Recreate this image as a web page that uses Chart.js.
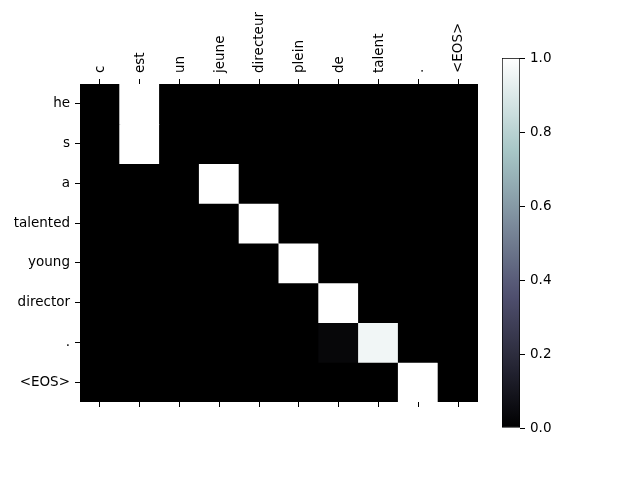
<!DOCTYPE html>
<html>
<head>
<meta charset="utf-8">
<script src="https://cdn.jsdelivr.net/npm/chart.js@4"></script>
<style>
  body { margin: 0; background: #fff; }
  #wrap { position: relative; width: 640px; height: 480px; }
  #heat { position: absolute; left: 0; top: 0; }
  #cbar { position: absolute; left: 490px; top: 0; }
</style>
</head>
<body>
<div id="wrap">
  <canvas id="heat" width="490" height="480"></canvas>
  <canvas id="cbar" width="150" height="480"></canvas>
</div>
<script>
const srcTokens = ['c', 'est', 'un', 'jeune', 'directeur', 'plein', 'de', 'talent', '.', '<EOS>'];
const tgtTokens = ['he', 's', 'a', 'talented', 'young', 'director', '.', '<EOS>'];
const weights = [
  [0, 1, 0, 0, 0, 0, 0, 0, 0, 0],
  [0, 1, 0, 0, 0, 0, 0, 0, 0, 0],
  [0, 0, 0, 1, 0, 0, 0, 0, 0, 0],
  [0, 0, 0, 0, 1, 0, 0, 0, 0, 0],
  [0, 0, 0, 0, 0, 1, 0, 0, 0, 0],
  [0, 0, 0, 0, 0, 0, 1, 0, 0, 0],
  [0, 0, 0, 0, 0, 0, 0.03, 0.96, 0, 0],
  [0, 0, 0, 0, 0, 0, 0, 0, 1, 0]
];
const cbarTicks = [0, 0.2, 0.4, 0.6, 0.8, 1.0];

Chart.defaults.font.family = 'DejaVu Sans';
Chart.defaults.font.size = 13.5;
Chart.defaults.color = '#000';
Chart.defaults.animation = false;

// matplotlib 'bone' colormap, piecewise linear
function bone(v) {
  const lerp = (pts) => {
    for (let i = 1; i < pts.length; i++) {
      if (v <= pts[i][0]) {
        const [x0, y0] = pts[i - 1], [x1, y1] = pts[i];
        return y0 + (v - x0) / (x1 - x0) * (y1 - y0);
      }
    }
    return pts[pts.length - 1][1];
  };
  const r = lerp([[0, 0], [0.746032, 0.652778], [1, 1]]);
  const g = lerp([[0, 0], [0.365079, 0.319444], [0.746032, 0.777778], [1, 1]]);
  const b = lerp([[0, 0], [0.365079, 0.444444], [1, 1]]);
  return `rgb(${Math.round(r * 255)},${Math.round(g * 255)},${Math.round(b * 255)})`;
}

const areaFill = {
  id: 'areaFill',
  beforeDatasetsDraw(chart) {
    const a = chart.chartArea, ctx = chart.ctx;
    ctx.save();
    ctx.fillStyle = bone(0);
    ctx.fillRect(a.left, a.top, a.right - a.left, a.bottom - a.top);
    ctx.restore();
  }
};

new Chart(document.getElementById('heat'), {
  type: 'bar',
  data: {
    labels: srcTokens,
    datasets: tgtTokens.map((t, i) => ({
      label: t,
      data: srcTokens.map(() => [i - 0.5, i + 0.5]),
      backgroundColor: weights[i].map(bone),
      borderWidth: 0,
      inflateAmount: 0.5,
      barPercentage: 1,
      categoryPercentage: 1,
      grouped: false
    }))
  },
  options: {
    responsive: false,
    layout: { padding: { left: 0, right: 12, top: 0, bottom: 0 } },
    plugins: { legend: { display: false }, tooltip: { enabled: false } },
    scales: {
      x: {
        type: 'category',
        position: 'top',
        grid: { offset: false, drawOnChartArea: false, tickLength: 5, tickColor: '#000' },
        border: { display: false },
        ticks: { minRotation: 90, maxRotation: 90, padding: 6, labelOffset: 17, autoSkip: false },
        afterFit: s => { s.height = 84; }
      },
      x2: {
        type: 'category',
        position: 'bottom',
        labels: srcTokens,
        offset: true,
        grid: { offset: false, drawOnChartArea: false, tickLength: 5, tickColor: '#000' },
        border: { display: false },
        ticks: { display: false },
        afterFit: s => { s.height = 78; }
      },
      y: {
        type: 'linear',
        reverse: true,
        min: -0.5,
        max: 7.5,
        afterBuildTicks: s => { s.ticks = tgtTokens.map((_, i) => ({ value: i })); },
        ticks: { callback: v => tgtTokens[v], padding: 5 },
        grid: { drawOnChartArea: false, tickLength: 5, tickColor: '#000' },
        border: { display: false },
        afterFit: s => { s.width = 80; }
      }
    }
  },
  plugins: [areaFill]
});

new Chart(document.getElementById('cbar'), {
  type: 'bar',
  data: {
    labels: ['v'],
    datasets: [{
      data: [[0, 1]],
      backgroundColor: (c) => {
        const area = c.chart.chartArea;
        if (!area) return '#888';
        const g = c.chart.ctx.createLinearGradient(0, area.bottom, 0, area.top);
        for (let k = 0; k <= 20; k++) g.addColorStop(k / 20, bone(k / 20));
        return g;
      },
      borderColor: '#000',
      borderWidth: 1,
      borderSkipped: false,
      barPercentage: 1,
      categoryPercentage: 1
    }]
  },
  options: {
    responsive: false,
    layout: { padding: { left: 12, top: 58, bottom: 52, right: 0 } },
    plugins: { legend: { display: false }, tooltip: { enabled: false } },
    scales: {
      x: { display: false },
      y: {
        position: 'right',
        min: 0,
        max: 1,
        afterBuildTicks: s => { s.ticks = cbarTicks.map(v => ({ value: v })); },
        ticks: { callback: v => v.toFixed(1), padding: 5 },
        grid: { drawOnChartArea: false, tickLength: 5, tickColor: '#000' },
        border: { display: false },
        afterFit: s => { s.width = 120; }
      }
    }
  }
});
</script>
</body>
</html>
